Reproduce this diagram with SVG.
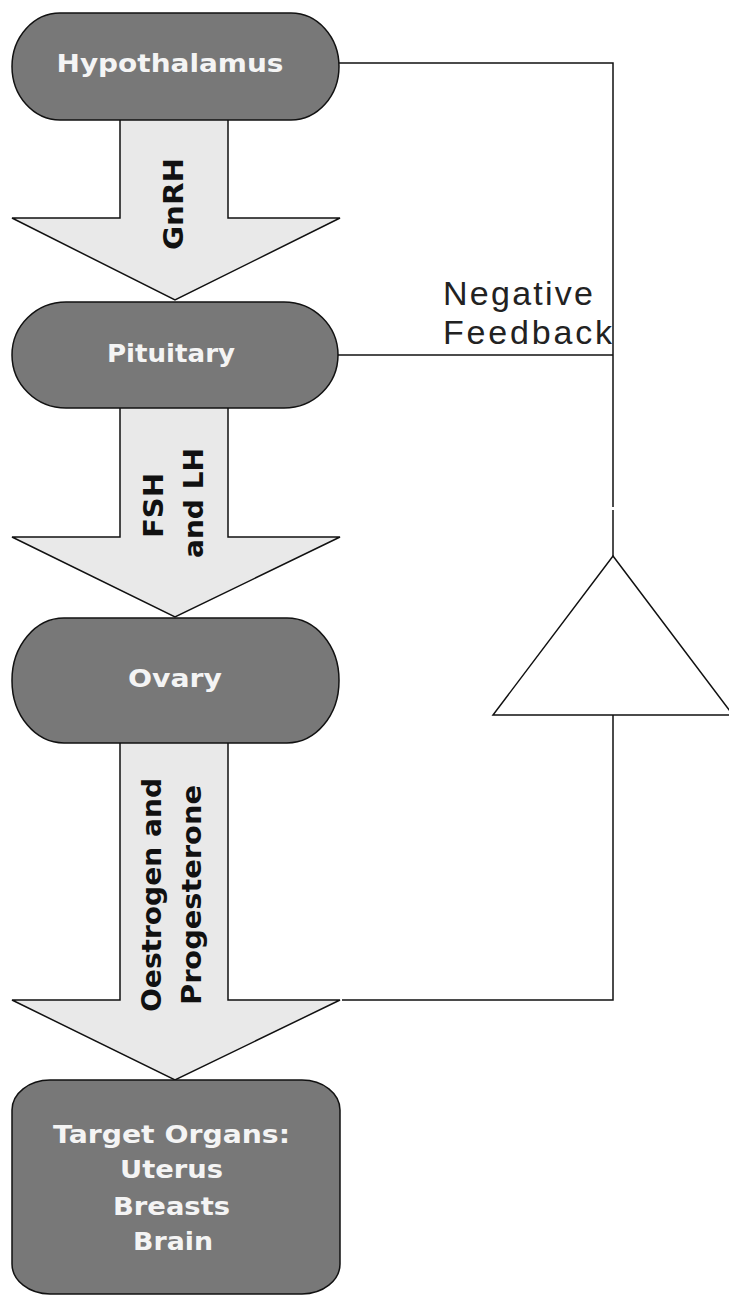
<svg xmlns="http://www.w3.org/2000/svg" width="729" height="1296" viewBox="0 0 729 1296">
<style>
.arrow{fill:#e9e9e9;stroke:#111;stroke-width:1.5;stroke-linejoin:miter}
.node{fill:#787878;stroke:#111;stroke-width:1.5}
.nt{font-family:"DejaVu Sans","Liberation Sans",Arial,sans-serif;font-weight:bold;font-size:25px;fill:#f4f4f4;text-anchor:middle}
.at{font-family:"DejaVu Sans","Liberation Sans",Arial,sans-serif;font-weight:bold;font-size:26px;fill:#111;text-anchor:middle}
.lbl{font-family:"Liberation Sans",Arial,sans-serif;font-size:34px;fill:#222}
.ln{fill:none;stroke:#111;stroke-width:1.5}
</style>
<rect width="729" height="1296" fill="#fff"/>
<g id="connectors">
  <g id="arrow-gnrh">
    <path class="arrow" d="M120,119 L228,119 L228,218 L340,218 L175,300 L12,218 L120,218 Z"/>
    <text class="at" transform="rotate(-90)" x="-204" y="183" textLength="92" lengthAdjust="spacingAndGlyphs">GnRH</text>
  </g>
  <g id="arrow-fsh-lh">
    <path class="arrow" d="M120,407 L228,407 L228,537 L340,537 L175,617 L12,537 L120,537 Z"/>
    <text class="at" transform="rotate(-90)" x="-505.5" y="163" textLength="65" lengthAdjust="spacingAndGlyphs">FSH</text>
    <text class="at" transform="rotate(-90)" x="-503" y="203" textLength="110" lengthAdjust="spacingAndGlyphs">and LH</text>
  </g>
  <g id="arrow-oestrogen">
    <path class="arrow" d="M120,742 L228,742 L228,1000 L340,1000 L175,1080 L12,1000 L120,1000 Z"/>
    <text class="at" transform="rotate(-90)" x="-895" y="161" textLength="234" lengthAdjust="spacingAndGlyphs">Oestrogen and</text>
    <text class="at" transform="rotate(-90)" x="-895" y="201" textLength="220" lengthAdjust="spacingAndGlyphs">Progesterone</text>
  </g>
  <g id="feedback">
    <polyline class="ln" points="339,63 613,63 613,507"/>
    <line class="ln" x1="613" y1="510" x2="613" y2="556"/>
    <line class="ln" x1="338" y1="355" x2="613" y2="355"/>
    <polyline class="ln" points="613,715 613,1000 342,1000"/>
    <polygon class="ln" points="613,556 733,715 493,715" fill="#fff"/>
    <text class="lbl" x="443" y="305" textLength="150" lengthAdjust="spacing">Negative</text>
    <text class="lbl" x="443" y="344" textLength="169" lengthAdjust="spacing">Feedback</text>
  </g>
</g>
<g id="hypothalamus">
  <rect class="node" x="12" y="13" width="327" height="107" rx="48" ry="53.5"/>
  <text class="nt" x="170" y="72" textLength="227" lengthAdjust="spacingAndGlyphs">Hypothalamus</text>
</g>
<g id="pituitary">
  <rect class="node" x="12" y="302" width="326" height="106" rx="54" ry="53"/>
  <text class="nt" x="171" y="362" textLength="128" lengthAdjust="spacingAndGlyphs">Pituitary</text>
</g>
<g id="ovary">
  <rect class="node" x="12" y="618" width="327" height="125" rx="52" ry="62"/>
  <text class="nt" x="175" y="687" textLength="94" lengthAdjust="spacingAndGlyphs">Ovary</text>
</g>
<g id="target-organs">
  <rect class="node" x="12" y="1080" width="328" height="214" rx="38" ry="30"/>
  <text class="nt" x="171.5" y="1143" textLength="237" lengthAdjust="spacingAndGlyphs">Target Organs:</text>
  <text class="nt" x="171.5" y="1178" textLength="103" lengthAdjust="spacingAndGlyphs">Uterus</text>
  <text class="nt" x="171.5" y="1215" textLength="117" lengthAdjust="spacingAndGlyphs">Breasts</text>
  <text class="nt" x="173" y="1250" textLength="80" lengthAdjust="spacingAndGlyphs">Brain</text>
</g>
</svg>
